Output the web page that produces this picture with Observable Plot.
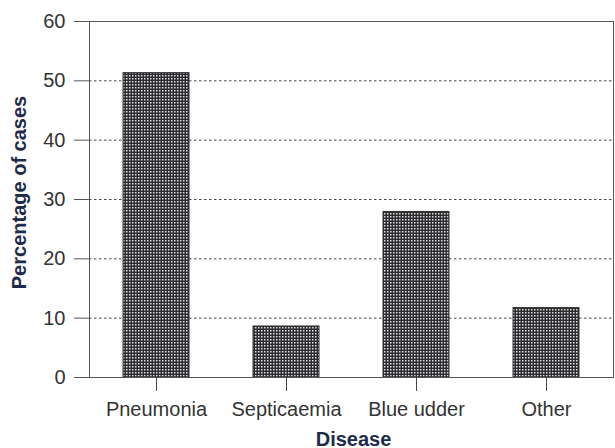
<!DOCTYPE html>
<html>
<head>
<meta charset="utf-8">
<script src="https://cdn.jsdelivr.net/npm/d3@7"></script>
<script src="https://cdn.jsdelivr.net/npm/@observablehq/plot@0.6"></script>
<style>
  body { margin: 0; background: #fff; }
  #chart svg { display: block; }
</style>
</head>
<body>
<div id="chart"></div>
<script>
const diseases = ["Pneumonia", "Septicaemia", "Blue udder", "Other"];
const percentages = [51.3, 8.6, 27.9, 11.7];
const yTicks = [0, 10, 20, 30, 40, 50, 60];
const gridTicks = [10, 20, 30, 40, 50];

const data = diseases.map((d, i) => ({disease: d, pct: percentages[i]}));

const chart = Plot.plot({
  width: 615,
  height: 448,
  marginTop: 21,
  marginBottom: 71,
  marginLeft: 89,
  marginRight: 2,
  style: {fontFamily: "'Liberation Sans', Arial, sans-serif", fontSize: "20px", color: "#333", background: "#fff"},
  x: {domain: diseases, paddingInner: 0.49, paddingOuter: 0.25, label: null},
  y: {domain: [0, 60], label: null},
  marks: [
    Plot.gridY(gridTicks, {stroke: "#444", strokeOpacity: 1, strokeDasharray: "2.5,2.5", strokeWidth: 1}),
    Plot.barY(data, {x: "disease", y: "pct", fill: "url(#chk)", stroke: "#333", strokeWidth: 1}),
    Plot.frame({stroke: "#555", strokeWidth: 1}),
    Plot.axisY(yTicks, {tickSize: 15, tickPadding: 9, stroke: "#555", fill: "#333", fontSize: 20, label: null}),
    Plot.axisX({tickSize: 14, tickPadding: 10, stroke: "#445", fill: "#333", fontSize: 20, label: null}),
    Plot.text(["Percentage of cases"], {frameAnchor: "left", textAnchor: "middle", dx: -70, dy: -7, rotate: -90, fontWeight: "bold", fontSize: 20, fill: "#1e2b4a"}),
    Plot.text(["Disease"], {frameAnchor: "bottom", lineAnchor: "bottom", dx: 2, dy: 68, fontWeight: "bold", fontSize: 20, fill: "#1e2b4a"})
  ]
});

const ns = "http://www.w3.org/2000/svg";
const defs = document.createElementNS(ns, "defs");
defs.innerHTML = `<pattern id="chk" patternUnits="userSpaceOnUse" width="3" height="3">
  <rect width="3" height="3" fill="#2b2b30"></rect>
  <rect x="0" y="0" width="1.5" height="1.5" fill="#e0e0e0"></rect>
</pattern>`;
chart.insertBefore(defs, chart.firstChild);
document.getElementById("chart").appendChild(chart);
</script>
</body>
</html>
